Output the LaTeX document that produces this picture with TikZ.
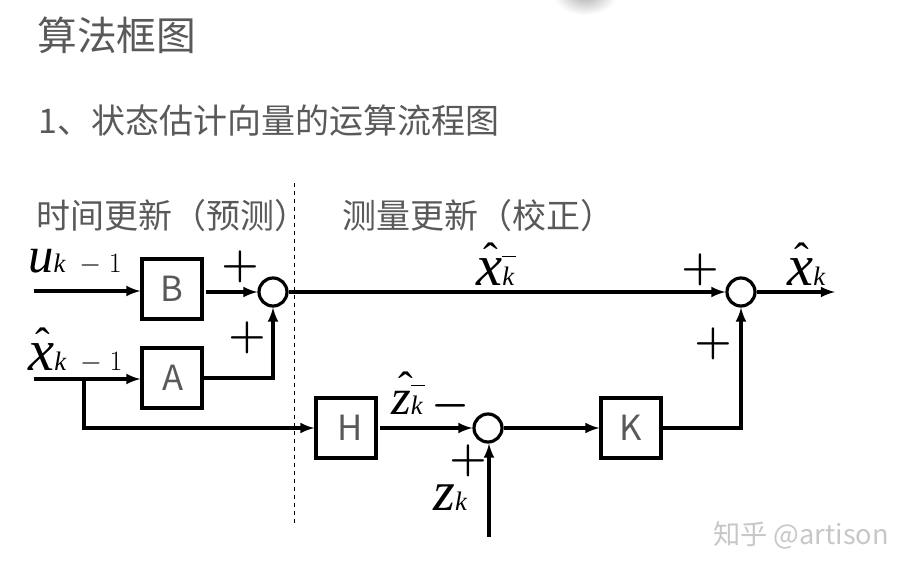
\RequirePackage{fix-cm}
\documentclass[tikz,border=0pt]{standalone}
\usepackage{fontspec}
\usepackage{tikz}
\usetikzlibrary{positioning}
\usetikzlibrary{arrows}
\newfontfamily\cjkfont{Noto Sans CJK SC}
\newfontfamily\symfont{Liberation Serif}
\colorlet{textc}{black!65}
\colorlet{markc}{black!22}
\newcommand{\bigsym}[2]{{\fontsize{#1}{#1}\selectfont\symfont\itshape #2}}
\newcommand{\hatover}{\rlap{\kern5.5pt\raisebox{9pt}{\fontsize{33}{33}\selectfont\symfont ˆ}}}
\newcommand{\subsym}{{\fontsize{20}{20}\selectfont\symfont\itshape k}}
\newcommand{\barsub}{\rlap{\rule[21pt]{10.5pt}{0.6pt}}\subsym}
\newcommand{\minusone}{{\fontsize{21}{21}\selectfont\kern10.5pt$-\;1$}}
\begin{document}
\begin{tikzpicture}[x=0.75pt,y=-0.75pt,
  heading/.style={anchor=base west,inner sep=0pt,text=textc,font=\cjkfont},
  blockbox/.style={draw,line width=2.4pt,minimum size=45pt,inner sep=0pt,text=textc,font=\cjkfont\fontsize{26}{26}\selectfont},
  sumnode/.style={draw,circle,line width=2.4pt,minimum size=21pt,inner sep=0pt},
  sig/.style={line width=2.6pt,-latex},
  sign/.style={inner sep=0pt,font=\fontsize{32}{32}\selectfont\boldmath},
  symlabel/.style={anchor=base west,inner sep=0pt}]
\useasboundingbox (0,0) rectangle (912,571);
\shade[inner color=black!32,outer color=white] (585,-6) ellipse (32 and 21);

\node[heading,font=\cjkfont\fontsize{29.8}{29.8}\selectfont] (title) at (37,50) {算法框图};
\node[heading,font=\cjkfont\fontsize{25.5}{25.5}\selectfont] (subtitle) at (38,133) {1、状态估计向量的运算流程图};
\node[heading,font=\cjkfont\fontsize{25.5}{25.5}\selectfont] (predict) at (36,228) {时间更新（预测）};
\node[heading,font=\cjkfont\fontsize{25.5}{25.5}\selectfont] (correct) at (342,228) {测量更新（校正）};

\coordinate (dashtop) at (294,183);
\coordinate (dashend) at (294,523);
\draw[dashed,line width=0.6pt] (dashtop) -- (dashend);

\node[blockbox] (B) at (172,289) {\raisebox{-2pt}{B}};
\node[blockbox] (A) at (172,378) {\raisebox{-2pt}{\kern2pt A}};
\node[blockbox] (H) at (346,428) {\raisebox{-2pt}{\kern6pt H}};
\node[blockbox] (K) at (631,428) {\raisebox{-2pt}{K}};
\node[sumnode] (sumtop) at (273,292) {};
\node[sumnode] (sumright) at (741,292) {};
\node[sumnode] (sumlow) at (488,428) {};

\coordinate (uin) at (34,291);
\coordinate (xin) at (34,379);
\coordinate (branch) at (84,379);
\coordinate (zin) at (489,537);
\coordinate (xout) at (835,292);

\draw[sig] (uin) -- (B.west |- uin);
\draw[sig] (xin) -- (A.west |- xin);
\draw[sig] (branch) |- (H.west);
\draw[sig,shorten <=2pt] (B.east |- sumtop) -- (sumtop);
\draw[sig] (A) -| (sumtop);
\draw[sig] (sumtop) -- (sumright);
\draw[sig] (sumright) -- (xout);
\draw[sig,shorten <=2pt] (H) -- (sumlow);
\draw[sig] (sumlow) -- (K);
\draw[sig] (K) -| (sumright);
\draw[sig] (zin) -- (zin |- sumlow.south);

\node[sign] (plusb) at (240,267) {$+$};
\node[sign] (plusa) at (247,338) {$+$};
\node[sign] (plusx) at (700,270) {$+$};
\node[sign] (plusk) at (713,344) {$+$};
\node[sign] (plusz) at (468,461) {$+$};
\node[sign] (minusz) at (451,406) {$-$};

\node[symlabel] (ulabel) at (28,272) {\bigsym{38}{u}\subsym\minusone};
\node[symlabel] (xlabel) at (28,370) {\hatover\bigsym{44}{x}\subsym\minusone};
\node[symlabel] (xprior) at (476,285) {\hatover\bigsym{44}{x}\barsub};
\node[symlabel] (xpost) at (787,285) {\hatover\bigsym{44}{x}\subsym};
\node[symlabel] (zprior) at (391,414) {\hatover\bigsym{38}{z}\barsub};
\node[symlabel] (zlabel) at (433,510) {\bigsym{42}{z}\subsym};

\node[heading,text=markc,font=\cjkfont\fontsize{20.4}{20.4}\selectfont] (mark) at (713,544) {知乎 @artison};
\end{tikzpicture}
\end{document}
